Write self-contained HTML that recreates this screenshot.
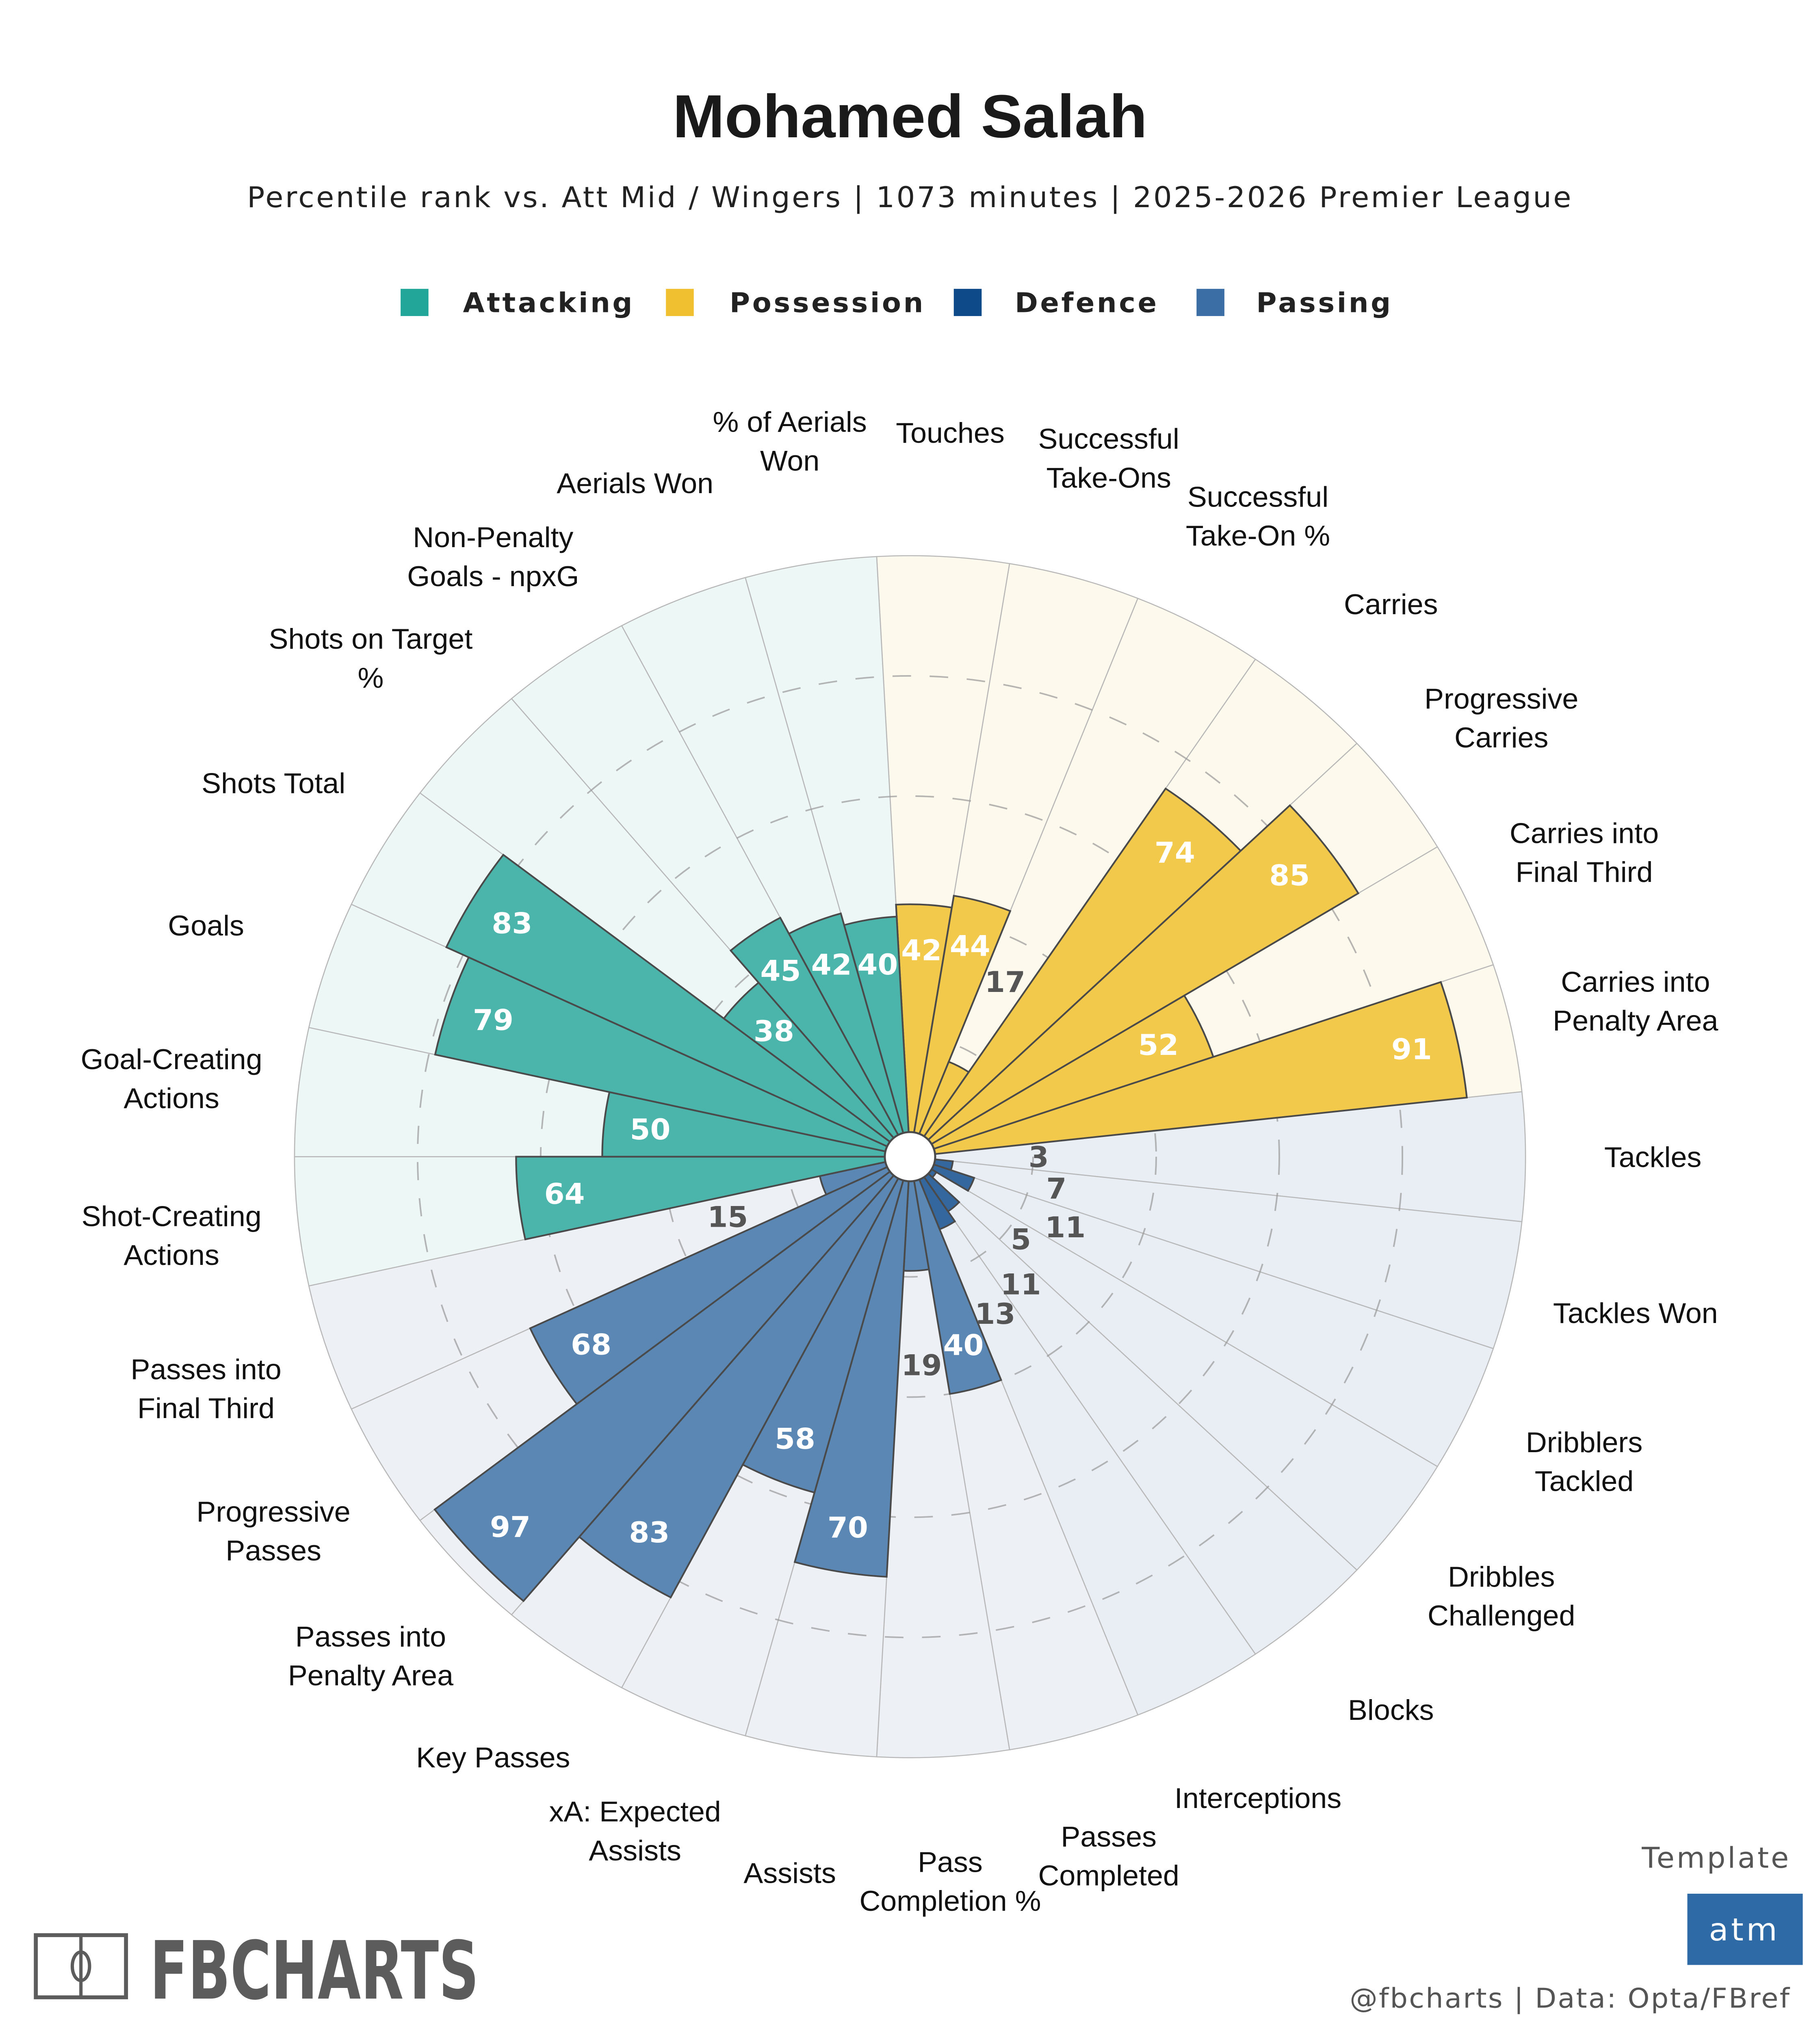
<!DOCTYPE html>
<html><head><meta charset="utf-8"><style>
html,body{margin:0;padding:0;background:#fff;width:100vw;height:100vh;overflow:hidden;}
svg{display:block;position:absolute;left:0;top:0;width:100vw;height:100vh;}
</style></head><body>
<svg id="chart" viewBox="0 0 1372 1568" preserveAspectRatio="none" xmlns="http://www.w3.org/2000/svg">
<rect width="1372" height="1568" fill="#fff"/>
<text x="686" y="106" text-anchor="middle" font-family="Liberation Sans, sans-serif" font-weight="bold" font-size="47" fill="#1a1a1a">Mohamed Salah</text>
<text x="686" y="160" text-anchor="middle" font-family="DejaVu Sans, sans-serif" font-size="22" letter-spacing="1.35" fill="#222">Percentile rank vs. Att Mid / Wingers | 1073 minutes | 2025-2026 Premier League</text>
<g id="legend" font-family="DejaVu Sans, sans-serif" font-weight="bold" font-size="21" letter-spacing="1.7" fill="#222">
<g><rect x="302" y="223" width="21" height="21" fill="#22a69a"/><text x="349" y="241">Attacking</text></g>
<g><rect x="502" y="223" width="21" height="21" fill="#f0c030"/><text x="550" y="241">Possession</text></g>
<g><rect x="719" y="223" width="21" height="21" fill="#0e4a8a"/><text x="765" y="241">Defence</text></g>
<g><rect x="902" y="223" width="21" height="21" fill="#3c6ea6"/><text x="947" y="241">Passing</text></g>
</g>
<g id="plot"></g>
<g>
<rect x="27" y="1494" width="68" height="48" fill="none" stroke="#5c5c5c" stroke-width="3"/>
<line x1="61" y1="1494" x2="61" y2="1542" stroke="#5c5c5c" stroke-width="2.5"/>
<ellipse cx="61" cy="1518" rx="6.5" ry="11" fill="none" stroke="#5c5c5c" stroke-width="2.5"/>
<text x="113" y="1543" font-family="DejaVu Sans Condensed, Liberation Sans Narrow, sans-serif" font-weight="bold" font-size="62" fill="#5c5c5c" textLength="248" lengthAdjust="spacingAndGlyphs">FBCHARTS</text>
</g>
<text x="1350" y="1442" text-anchor="end" font-family="DejaVu Sans, sans-serif" font-size="22" letter-spacing="1.5" fill="#555">Template</text>
<rect x="1272" y="1462" width="87" height="55" fill="#2e6aa6"/>
<text x="1315" y="1498" text-anchor="middle" font-family="DejaVu Sans, sans-serif" font-size="24" letter-spacing="2" fill="#fff">atm</text>
<text x="1350" y="1550" text-anchor="end" font-family="DejaVu Sans, sans-serif" font-size="21" letter-spacing="1" fill="#555">@fbcharts | Data: Opta/FBref</text>
</svg>
<script>
const categories = ["Touches","Successful\nTake-Ons","Successful\nTake-On %","Carries","Progressive\nCarries","Carries into\nFinal Third","Carries into\nPenalty Area","Tackles","Tackles Won","Dribblers\nTackled","Dribbles\nChallenged","Blocks","Interceptions","Passes\nCompleted","Pass\nCompletion %","Assists","xA: Expected\nAssists","Key Passes","Passes into\nPenalty Area","Progressive\nPasses","Passes into\nFinal Third","Shot-Creating\nActions","Goal-Creating\nActions","Goals","Shots Total","Shots on Target\n%","Non-Penalty\nGoals - npxG","Aerials Won","% of Aerials\nWon"];
const values = [42,44,17,74,85,52,91,3,7,11,5,11,13,40,19,70,58,83,97,68,15,64,50,79,83,38,45,42,40];
const groups = ["pos","pos","pos","pos","pos","pos","pos","def","def","def","def","def","def","pas","pas","pas","pas","pas","pas","pas","pas","att","att","att","att","att","att","att","att"];
const gridTicks = [20,40,60,80];

const fills = {att:"#4bb5ab",pos:"#f2c94a",def:"#33679e",pas:"#5a87b4"};
const bgs = {att:"#edf7f5",pos:"#fdf9ec",def:"#e9eef5",pas:"#edf1f6"};
const NS="http://www.w3.org/2000/svg";
const cx=686, cy=893, R=464;
const N=categories.length, step=360/N, offset=90-7*step;
const rScale=v=>v/100*R;
const angleOf=i=>offset+i*step;
function pt(a,r){const t=a*Math.PI/180;return [cx+r*Math.sin(t), cy-r*Math.cos(t)];}
function wedge(a0,a1,r){const p0=pt(a0,r),p1=pt(a1,r);return `M${cx},${cy}L${p0[0]},${p0[1]}A${r},${r} 0 0 1 ${p1[0]},${p1[1]}Z`;}
function mk(tag,attrs,parent){const e=document.createElementNS(NS,tag);for(const k in attrs)e.setAttribute(k,attrs[k]);parent.appendChild(e);return e;}
const plot=document.getElementById('plot');
const gBg=mk('g',{},plot), gGrid=mk('g',{},plot), gBar=mk('g',{},plot), gTxt=mk('g',{},plot), gLab=mk('g',{},plot);
for(let i=0;i<N;i++){
  const a=angleOf(i);
  const bg=mk('path',{d:wedge(a-step/2,a+step/2,R),fill:bgs[groups[i]],stroke:"#b8b8b8","stroke-width":0.8},gBg);
  
  
}
gridTicks.forEach(t=>{
  const c=mk('circle',{cx:cx,cy:cy,r:rScale(t),fill:"none",stroke:"#999","stroke-width":1.2,"stroke-dasharray":"14 14",opacity:0.7},gGrid);
  
  
});
for(let i=0;i<N;i++){
  const a=angleOf(i), v=values[i], r=rScale(v);
  const b=mk('path',{d:wedge(a-step/2,a+step/2,r),fill:fills[groups[i]],stroke:"#4a4a4a","stroke-width":1.3},gBar);
  
  
  const lr = v>=30 ? r-35 : 85+4*v;
  const p=pt(a,lr);
  const t=mk('text',{x:p[0],y:p[1]+8,"text-anchor":"middle","font-family":"DejaVu Sans, sans-serif","font-weight":"bold","font-size":22,fill:v>=30?"#fff":"#555"},gTxt);
  t.textContent=v;
  
  
  const lp=pt(a,560);
  const lines=categories[i].split("\n");
  const lab=mk('text',{"text-anchor":"middle","font-family":"Liberation Sans, sans-serif","font-size":22,fill:"#111"},gLab);
  
  
  lines.forEach((ln,k)=>{const ts=mk('tspan',{x:lp[0],y:lp[1]+8+(k-(lines.length-1)/2)*30},lab);ts.textContent=ln;});
}
const hole=mk('circle',{cx:cx,cy:cy,r:19,fill:"#fff",stroke:"#4a4a4a","stroke-width":1.5},plot);


</script>
</body></html>
